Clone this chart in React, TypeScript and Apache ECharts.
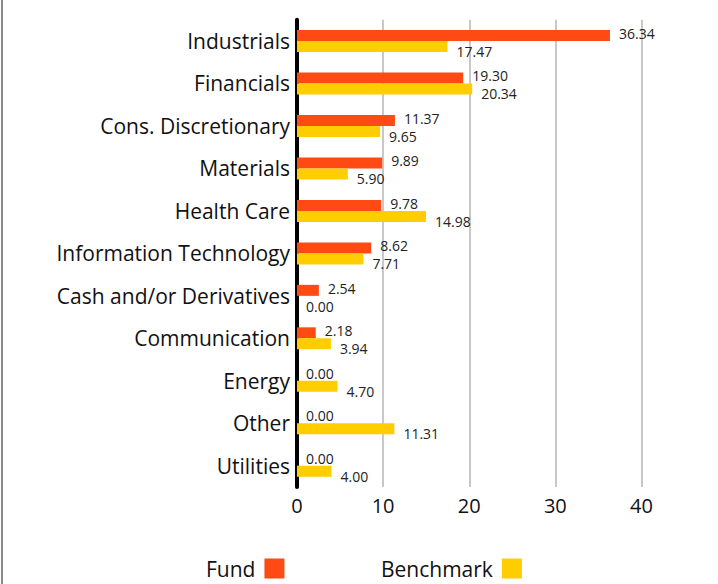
import React, { useEffect, useRef } from "react";
import * as echarts from "echarts";

const categories = [
  "Industrials",
  "Financials",
  "Cons. Discretionary",
  "Materials",
  "Health Care",
  "Information Technology",
  "Cash and/or Derivatives",
  "Communication",
  "Energy",
  "Other",
  "Utilities",
];
const fundValues = [36.34, 19.3, 11.37, 9.89, 9.78, 8.62, 2.54, 2.18, 0, 0, 0];
const benchmarkValues = [17.47, 20.34, 9.65, 5.9, 14.98, 7.71, 0, 3.94, 4.7, 11.31, 4.0];
const seriesNames = ["Fund", "Benchmark"];

const FONT = "'Open Sans', 'Liberation Sans', sans-serif";

export default function App() {
  const ref = useRef<HTMLDivElement>(null);
  useEffect(() => {
    if (!ref.current) return;
    const chart = echarts.init(ref.current, null, { renderer: "svg" });
    const labelBase = {
      show: true,
      position: "right" as const,
      distance: 9,
      fontSize: 14,
      color: "#222",
      fontFamily: FONT,
      formatter: (p: any) => Number(p.value).toFixed(2),
    };
    const legendBase = {
      top: 558,
      align: "right" as const,
      icon: "rect",
      itemWidth: 20,
      itemHeight: 20,
      padding: 0,
      textStyle: { fontSize: 21, color: "#111", fontFamily: FONT, padding: [5, 4, 0, 0] },
    };
    chart.setOption({
      animation: false,
      textStyle: { fontFamily: FONT },
      grid: { left: 297, right: 76.5, top: 19.75, bottom: 97, containLabel: false },
      legend: [
        { ...legendBase, data: [seriesNames[0]], left: 206 },
        { ...legendBase, data: [seriesNames[1]], left: 381 },
      ],
      xAxis: {
        type: "value",
        min: 0,
        max: 40,
        interval: 10,
        axisLine: { show: false },
        axisTick: { show: false },
        axisLabel: { fontSize: 20, color: "#111", margin: 8, fontFamily: FONT },
        splitLine: { show: true, lineStyle: { color: "#c8c8c8", width: 2 } },
      },
      yAxis: {
        type: "category",
        data: categories,
        inverse: true,
        axisLine: { show: true, lineStyle: { color: "#000", width: 4 } },
        axisTick: { show: false },
        axisLabel: { fontSize: 21, color: "#111", margin: 7, fontFamily: FONT },
        splitLine: { show: false },
      },
      series: [
        {
          name: seriesNames[0],
          type: "bar",
          data: fundValues,
          barWidth: 11,
          barGap: "0%",
          itemStyle: { color: "#FF4A14" },
          label: { ...labelBase, offset: [0, -2] },
        },
        {
          name: seriesNames[1],
          type: "bar",
          data: benchmarkValues,
          barWidth: 11,
          barGap: "0%",
          itemStyle: { color: "#FFCD00" },
          label: { ...labelBase, offset: [0, 5] },
        },
      ],
      graphic: [
        { type: "rect", left: 1, top: 0, shape: { width: 2, height: 584 }, style: { fill: "#888" } },
      ],
    });
    return () => chart.dispose();
  }, []);
  return (
    <div
      ref={ref}
      style={{ position: "fixed", left: 0, top: 0, width: 718, height: 584, background: "#fff" }}
    />
  );
}
